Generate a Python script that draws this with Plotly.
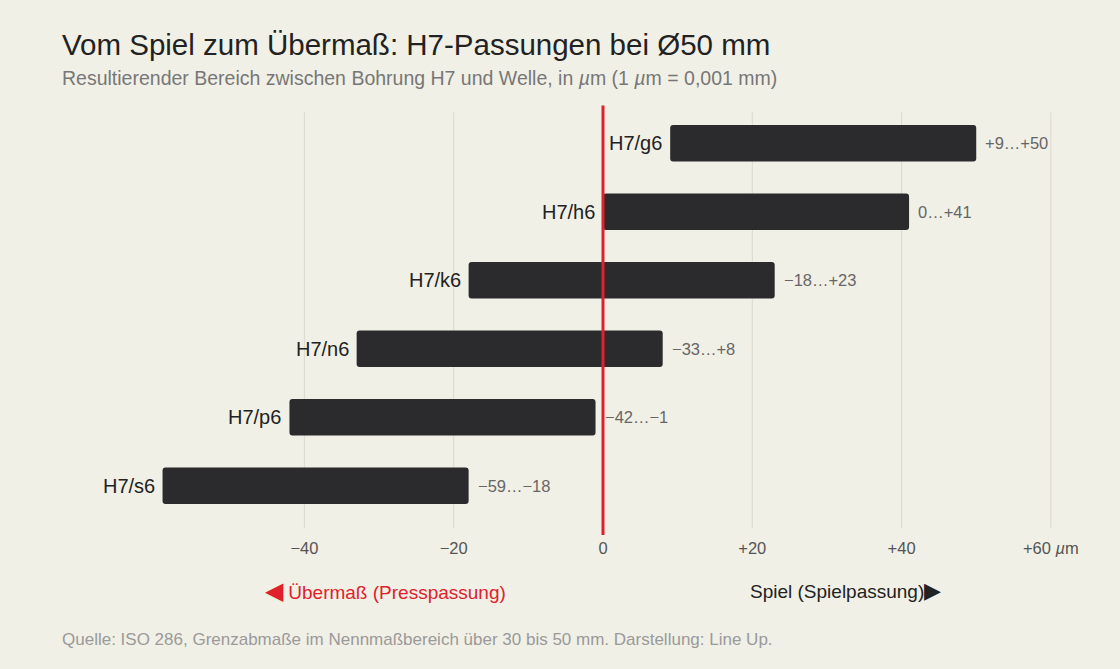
import plotly.graph_objects as go

categories = ["H7/g6", "H7/h6", "H7/k6", "H7/n6", "H7/p6", "H7/s6"]
min_values = [9, 0, -18, -33, -42, -59]
max_values = [50, 41, 23, 8, -1, -18]
tick_values = [-40, -20, 0, 20, 40, 60]
tick_labels = ["−40", "−20", "0", "+20", "+40", "+60 <i>µ</i>m"]
grid_values = [-40, -20, 20, 40, 60]

BG = "#F1F0E6"
BAR = "#2B2B2D"
RED = "#E0212C"
FONT = "Liberation Sans, Arial, Helvetica, sans-serif"

TOP, BOTTOM = 108.5, 520.0
H = BOTTOM - TOP


def py(pix):
    return (BOTTOM - pix) / H


def fmt(v):
    if v > 0:
        return "+" + str(v)
    if v < 0:
        return "−" + str(abs(v))
    return "0"


fig = go.Figure()
fig.add_trace(go.Bar(
    y=categories,
    x=[b - a for a, b in zip(min_values, max_values)],
    base=min_values,
    orientation="h",
    marker=dict(color=BAR, line=dict(width=0)),
    width=0.53,
    hoverinfo="skip",
))

shapes = []
for g in grid_values:
    shapes.append(dict(type="line", xref="x", yref="paper", x0=g, x1=g,
                       y0=py(528), y1=py(112), line=dict(color="#DAD9CE", width=1),
                       layer="below"))
shapes.append(dict(type="line", xref="x", yref="paper", x0=0, x1=0,
                   y0=py(535), y1=py(105), line=dict(color=RED, width=3),
                   layer="above"))

annotations = []
for c, a, b in zip(categories, min_values, max_values):
    annotations.append(dict(x=a, y=c, xref="x", yref="y", text=c, showarrow=False,
                            xanchor="right", xshift=-6,
                            font=dict(size=20, color="#222222", family=FONT)))
    annotations.append(dict(x=b, y=c, xref="x", yref="y", text=fmt(a) + "…" + fmt(b),
                            showarrow=False, xanchor="left", xshift=7,
                            font=dict(size=16.5, color="#666666", family=FONT)))

annotations.append(dict(x=0, y=py(77), xref="paper", yref="paper",
                        text="Resultierender Bereich zwischen Bohrung H7 und Welle, in <i>µ</i>m (1 <i>µ</i>m = 0,001 mm)",
                        showarrow=False, xanchor="left", yanchor="middle", xshift=-2,
                        font=dict(size=19.5, color="#777777", family=FONT)))
annotations.append(dict(x=-45.5, y=py(591), xref="x", yref="paper",
                        text="<span style='font-size:24px'>◀</span> Übermaß (Presspassung)", showarrow=False,
                        xanchor="left", yanchor="middle",
                        font=dict(size=19, color=RED, family=FONT)))
annotations.append(dict(x=45.5, y=py(591), xref="x", yref="paper",
                        text="Spiel (Spielpassung)<span style='font-size:22px'>▶</span>", showarrow=False,
                        xanchor="right", yanchor="middle",
                        font=dict(size=19, color="#222222", family=FONT)))
annotations.append(dict(x=0, y=py(640), xref="paper", yref="paper",
                        text="Quelle: ISO 286, Grenzabmaße im Nennmaßbereich über 30 bis 50 mm. Darstellung: Line Up.",
                        showarrow=False, xanchor="left", yanchor="middle", xshift=-2,
                        font=dict(size=17, color="#9A9A9A", family=FONT)))

fig.update_layout(
    width=1120, height=669,
    paper_bgcolor=BG, plot_bgcolor=BG,
    margin=dict(l=62, r=60, t=TOP, b=669 - BOTTOM),
    barcornerradius=3,
    showlegend=False,
    font=dict(family=FONT),
    title=dict(text="Vom Spiel zum Übermaß: H7-Passungen bei Ø50 mm",
               x=62 / 1120, xref="container", xanchor="left",
               y=1 - 45 / 669, yref="container", yanchor="middle",
               font=dict(size=29.5, color="#222222", family=FONT)),
    xaxis=dict(range=[-72.47, 61.22], tickvals=tick_values, ticktext=tick_labels,
               showgrid=False, zeroline=False, showline=False, ticks="",
               ticklabelstandoff=16,
               tickfont=dict(size=16.5, color="#555555", family=FONT), fixedrange=True),
    yaxis=dict(categoryorder="array", categoryarray=categories[::-1],
               showticklabels=False, showgrid=False, zeroline=False, showline=False,
               ticks="", fixedrange=True),
    shapes=shapes,
    annotations=annotations,
)

fig.write_html("out.html")
